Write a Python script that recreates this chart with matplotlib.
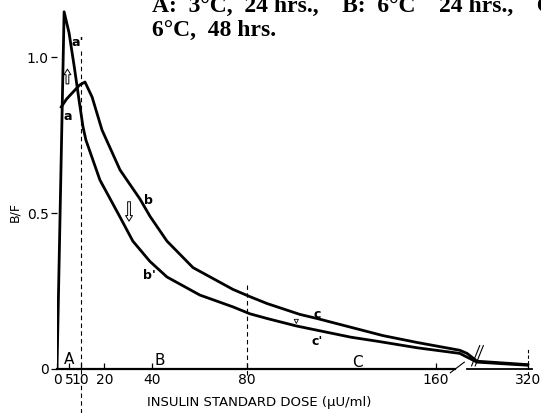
import matplotlib
matplotlib.use("Agg")
import matplotlib.pyplot as plt
import numpy as np

# curva a -> b -> c
dosis_a = [1.8, 4.0, 6.8, 9.5, 11.8, 14.8, 19.0, 26.6, 35.0, 39.2, 46.4, 57.4,
           74.3, 81.4, 88.6, 102.5, 109.7, 137.6, 152, 170, 186, 208, 320]
bf_a = [0.84, 0.865, 0.888, 0.91, 0.92, 0.872, 0.766, 0.638, 0.545, 0.49, 0.41, 0.325,
        0.255, 0.232, 0.21, 0.175, 0.162, 0.107, 0.085, 0.06, 0.05, 0.025, 0.014]

# curva a' -> b' -> c'
dosis_a2 = [0, 3.0, 5.1, 7.3, 9.3, 11.0, 12.2, 18.1, 26.6, 32, 39.2, 46.4, 60.3,
            74.3, 81.4, 88.6, 101, 124, 136, 152, 170, 186, 208, 320]
bf_a2 = [0, 1.145, 1.077, 0.968, 0.862, 0.775, 0.734, 0.606, 0.487, 0.41, 0.345, 0.295, 0.237,
         0.199, 0.177, 0.162, 0.138, 0.102, 0.088, 0.068, 0.05, 0.038, 0.022, 0.012]

ticks_x = [0, 5, 10, 20, 40, 80, 160, 320]
etiquetas_x = ["0", "5", "10", "20", "40", "80", "160", "320"]
ticks_y = [0, 0.5, 1.0]
etiquetas_y = ["0", "0.5", "1.0"]

# eje x cortado: lineal hasta 170, comprimido despues
CORTE = 170
FACTOR = 0.191


def ida(x):
    x = np.asarray(x, dtype=float)
    return np.where(x <= CORTE, x, CORTE + (x - CORTE) * FACTOR)


def vuelta(u):
    u = np.asarray(u, dtype=float)
    return np.where(u <= CORTE, u, CORTE + (u - CORTE) / FACTOR)


fig = plt.figure(figsize=(5.41, 4.13), dpi=100)
ax = fig.add_axes([57 / 541, 44 / 413, 481 / 541, 365 / 413])
ax.set_xscale("function", functions=(ida, vuelta))
ax.set_xlim(0, float(vuelta(203)))
ax.set_ylim(0, 1.17)

for s in ax.spines.values():
    s.set_visible(False)

ax.plot(dosis_a, bf_a, color="black", lw=2.0, solid_joinstyle="round")
ax.plot(dosis_a2, bf_a2, color="black", lw=2.0, solid_joinstyle="round")

# eje x con corte
ax.plot([0, 168], [0, 0], color="black", lw=1.6, clip_on=False)
ax.plot([186, 330], [0, 0], color="black", lw=1.3, clip_on=False)
ax.plot([166, 180], [-0.012, 0.022], color="black", lw=0.8, clip_on=False)
ax.plot([196, 214], [0.01, 0.075], color="black", lw=0.8)
ax.plot([204, 222], [0.01, 0.075], color="black", lw=0.8)

# lineas punteadas
ax.plot([10, 10], [-0.14, 1.02], color="black", lw=0.8, ls=(0, (4, 3)), clip_on=False)
ax.plot([80, 80], [-0.02, 0.275], color="black", lw=0.8, ls=(0, (4, 3)), clip_on=False)
ax.plot([320, 320], [-0.02, 0.067], color="black", lw=0.8, ls=(0, (3, 2)), clip_on=False)

ax.set_xticks(ticks_x)
ax.set_xticklabels(etiquetas_x)
ax.set_yticks(ticks_y)
ax.set_yticklabels(etiquetas_y)
ax.tick_params(axis="x", direction="in", length=4, width=0.9, labelsize=10, pad=3)
ax.tick_params(axis="y", direction="out", length=4, width=0.9, labelsize=10, pad=2)
ax.minorticks_off()

ax.set_xlabel("INSULIN STANDARD DOSE (\u03bcU/ml)", fontsize=9.5)
ax.xaxis.set_label_coords(0.42, -0.075)
ax.set_ylabel("B/F", fontsize=9)
ax.yaxis.set_label_coords(-0.075, 0.43)

# letras de zona
for letra, xx, yy in [("A", 5, 0.032), ("B", 43.5, 0.026), ("C", 126.6, 0.02)]:
    ax.text(xx, yy, letra, fontsize=11, ha="center", va="center")

# etiquetas de curvas
for letra, xx, yy in [("a'", 8.6, 1.045), ("a", 4.4, 0.81), ("b", 38.4, 0.54),
                      ("b'", 39.2, 0.30), ("c", 109.7, 0.175), ("c'", 110, 0.087)]:
    ax.text(xx, yy, letra, fontsize=9, fontweight="bold", ha="center", va="center")

# flechas huecas
flecha = dict(arrowstyle="simple,head_width=0.5,head_length=0.4,tail_width=0.2",
              fc="white", ec="black", lw=0.7)
ax.annotate("", xy=(4.4, 0.97), xytext=(4.4, 0.905), arrowprops=flecha)
ax.annotate("", xy=(30.4, 0.465), xytext=(30.4, 0.545), arrowprops=flecha)
ax.annotate("", xy=(101, 0.137), xytext=(101, 0.163),
            arrowprops=dict(arrowstyle="simple,head_width=0.3,head_length=0.3,tail_width=0.12",
                            fc="white", ec="black", lw=0.6))

fig.text(152 / 541, 1 - 12 / 413, "A:  3\u00b0C,  24 hrs.,    B:  6\u00b0C    24 hrs.,    C",
         fontsize=17, fontweight="bold", family="Liberation Serif", va="baseline")
fig.text(152 / 541, 1 - 36 / 413, "6\u00b0C,  48 hrs.",
         fontsize=17, fontweight="bold", family="Liberation Serif", va="baseline")

fig.savefig("out.png", dpi=100)
